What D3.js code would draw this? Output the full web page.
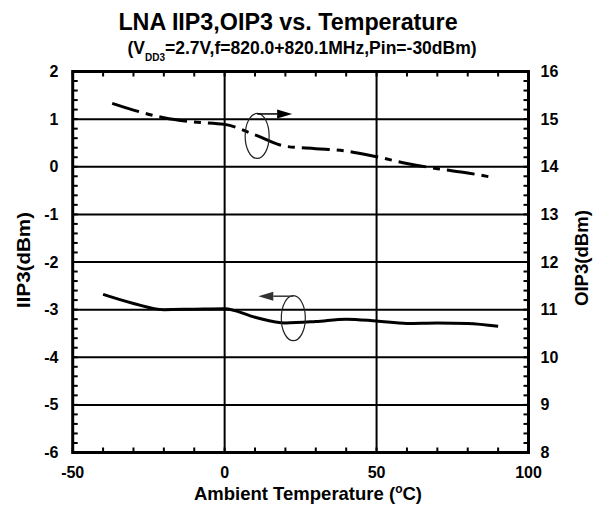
<!DOCTYPE html>
<html>
<head>
<meta charset="utf-8">
<script src="https://cdn.jsdelivr.net/npm/d3@7"></script>
<style>
  html, body { margin: 0; padding: 0; background: #fff; }
  svg text { font-family: "Liberation Sans", Arial, sans-serif; font-weight: bold; fill: #000; }
</style>
</head>
<body>
<svg id="chart" width="601" height="513"></svg>
<script>
// ---- data ----
const iipTemps = [-40, -30, -20, -10, 0, 10, 20, 30, 40, 50, 60, 70, 80, 90];
const iipValues = [-2.68, -2.87, -3.00, -2.99, -2.98, -3.16, -3.28, -3.25, -3.20, -3.24, -3.29, -3.28, -3.29, -3.35];
const oipTemps = [-37, -30, -20, -10, 0, 10, 20, 30, 40, 50, 60, 70, 80, 87];
const oipValues = [15.33, 15.19, 15.03, 14.94, 14.89, 14.67, 14.43, 14.38, 14.33, 14.21, 14.07, 13.96, 13.87, 13.79];
const xTickLabels = [-50, 0, 50, 100];
const yLeftTickLabels = [2, 1, 0, -1, -2, -3, -4, -5, -6];
const yRightTickLabels = [16, 15, 14, 13, 12, 11, 10, 9, 8];
// annotation anchors (temperature, value on the series' own axis)
const oipMarker = { t: 10.7, v: 14.647 };
const iipMarker = { t: 22.6, v: -3.18 };

const svg = d3.select("#chart");
const L = 72.7, R = 528.5, T = 71.5, B = 452.5;

const x = d3.scaleLinear().domain([-50, 100]).range([L, R]);
const yL = d3.scaleLinear().domain([-6, 2]).range([B, T]);
const yR = d3.scaleLinear().domain([8, 16]).range([B, T]);

// gridlines
const g = svg.append("g");
g.selectAll("line.h").data(yLeftTickLabels.filter(v => v > -6 && v < 2)).enter()
  .append("line").attr("x1", L).attr("x2", R)
  .attr("y1", d => yL(d)).attr("y2", d => yL(d))
  .attr("stroke", "#000").attr("stroke-width", 2);
g.selectAll("line.v").data(xTickLabels.filter(v => v > -50 && v < 100)).enter()
  .append("line").attr("y1", T).attr("y2", B)
  .attr("x1", d => x(d)).attr("x2", d => x(d))
  .attr("stroke", "#000").attr("stroke-width", 2);

// minor ticks (inward)
const xMinor = d3.range(-50, 101, 10);
const yMinor = d3.range(-6, 2.001, 0.2);
const tl = 5;
g.selectAll("line.tb").data(xMinor).enter().append("line")
  .attr("x1", d => x(d)).attr("x2", d => x(d)).attr("y1", B).attr("y2", B - tl)
  .attr("stroke", "#000").attr("stroke-width", 2);
g.selectAll("line.tt").data(xMinor).enter().append("line")
  .attr("x1", d => x(d)).attr("x2", d => x(d)).attr("y1", T).attr("y2", T + tl)
  .attr("stroke", "#000").attr("stroke-width", 2);
g.selectAll("line.tl").data(yMinor).enter().append("line")
  .attr("x1", L).attr("x2", L + tl).attr("y1", d => yL(d)).attr("y2", d => yL(d))
  .attr("stroke", "#000").attr("stroke-width", 2);
g.selectAll("line.tr").data(yMinor).enter().append("line")
  .attr("x1", R).attr("x2", R - tl).attr("y1", d => yL(d)).attr("y2", d => yL(d))
  .attr("stroke", "#000").attr("stroke-width", 2);

// frame
svg.append("rect").attr("x", L).attr("y", T).attr("width", R - L).attr("height", B - T)
  .attr("fill", "none").attr("stroke", "#000").attr("stroke-width", 3);

// tick labels
svg.selectAll("text.xl").data(xTickLabels).enter().append("text")
  .attr("x", d => x(d)).attr("y", 478).attr("text-anchor", "middle")
  .attr("font-size", 16).text(d => d);
svg.selectAll("text.yl").data(yLeftTickLabels).enter().append("text")
  .attr("x", 58.5).attr("y", d => yL(d) + 5.5).attr("text-anchor", "end")
  .attr("font-size", 16).text(d => d);
svg.selectAll("text.yr").data(yRightTickLabels).enter().append("text")
  .attr("x", 540.5).attr("y", d => yR(d) + 5.5).attr("text-anchor", "start")
  .attr("font-size", 16).text(d => d);

// lines
const lineL = d3.line().x(d => x(d[0])).y(d => yL(d[1])).curve(d3.curveMonotoneX);
const lineR = d3.line().x(d => x(d[0])).y(d => yR(d[1])).curve(d3.curveMonotoneX);
svg.append("path").attr("d", lineL(d3.zip(iipTemps, iipValues)))
  .attr("fill", "none").attr("stroke", "#000").attr("stroke-width", 3);
svg.append("path").attr("d", lineR(d3.zip(oipTemps, oipValues)))
  .attr("fill", "none").attr("stroke", "#000").attr("stroke-width", 3)
  .attr("stroke-dasharray", "28,7,7,7");

// annotations
function marker(cx, cy, dir, color) {
  const rx = 12, ry = 22.5;
  svg.append("ellipse").attr("cx", cx).attr("cy", cy).attr("rx", rx).attr("ry", ry)
    .attr("fill", "none").attr("stroke", "#222").attr("stroke-width", 1.2);
  const y0 = cy - ry + 0.5;
  const tip = cx + dir * 35, base = cx + dir * 20;
  svg.append("line").attr("x1", cx).attr("x2", base).attr("y1", y0).attr("y2", y0)
    .attr("stroke", color).attr("stroke-width", 1.5);
  svg.append("path").attr("d", `M${tip},${y0} L${base},${y0 - 4.5} L${base},${y0 + 4.5} Z`)
    .attr("fill", color);
}
marker(x(oipMarker.t), yR(oipMarker.v), 1, "#000");
marker(x(iipMarker.t), yL(iipMarker.v), -1, "#333");

// titles
svg.append("text").attr("x", 288).attr("y", 30).attr("text-anchor", "middle")
  .attr("font-size", 23.3).text("LNA IIP3,OIP3 vs. Temperature");
const st = svg.append("text").attr("x", 302).attr("y", 53.5).attr("text-anchor", "middle")
  .attr("font-size", 17.5);
st.append("tspan").text("(V");
st.append("tspan").attr("font-size", 10).attr("dy", 7).text("DD3");
st.append("tspan").attr("dy", -7).text("=2.7V,f=820.0+820.1MHz,Pin=-30dBm)");

const xt = svg.append("text").attr("x", 308).attr("y", 500).attr("text-anchor", "middle")
  .attr("font-size", 18.5);
xt.append("tspan").text("Ambient Temperature (");
xt.append("tspan").attr("font-size", 12).attr("dy", -7).text("o");
xt.append("tspan").attr("dy", 7).text("C)");

svg.append("text").attr("transform", "translate(30,260) rotate(-90)")
  .attr("text-anchor", "middle").attr("font-size", 18)
  .attr("textLength", 96).attr("lengthAdjust", "spacingAndGlyphs").text("IIP3(dBm)");
svg.append("text").attr("transform", "translate(588,258) rotate(-90)")
  .attr("text-anchor", "middle").attr("font-size", 18)
  .attr("textLength", 96).attr("lengthAdjust", "spacingAndGlyphs").text("OIP3(dBm)");
</script>
</body>
</html>
